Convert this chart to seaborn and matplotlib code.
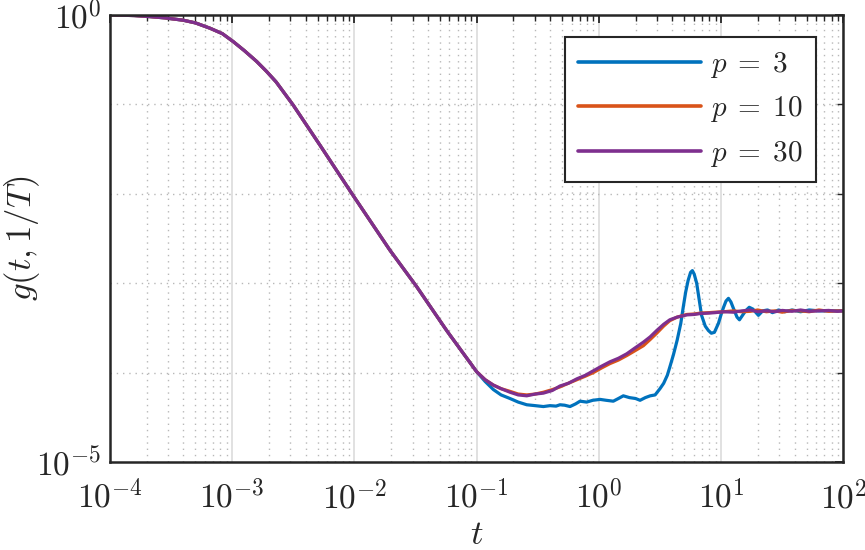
import numpy as np
import pandas as pd
import matplotlib
matplotlib.use('Agg')
import matplotlib.pyplot as plt
import seaborn as sns
from matplotlib.ticker import FixedLocator, LogLocator, NullFormatter

# values, in log10 units
# common decay, identical for all three p
log_t_common = [-4.0, -3.9, -3.8, -3.67, -3.55, -3.4, -3.3, -3.18, -3.08, -2.99,
                -2.9, -2.8, -2.72, -2.64, -2.5, -2.28, -2.01, -1.71, -1.49,
                -1.245, -1.0]
log_g_common = [0.0, -0.004, -0.008, -0.02, -0.034, -0.06, -0.09, -0.15, -0.21, -0.30,
                -0.40, -0.52, -0.63, -0.75, -1.01, -1.46, -2.02, -2.63, -3.04,
                -3.53, -3.99]

# p = 3 tail
log_t_p3 = [-0.93, -0.863, -0.8, -0.727, -0.66, -0.59, -0.52, -0.454, -0.4, -0.35,
            -0.318, -0.28, -0.236, -0.19, -0.154, -0.1, -0.05, 0.01, 0.06, 0.118,
            0.16, 0.2, 0.25, 0.3, 0.337, 0.38, 0.42, 0.46, 0.5, 0.53, 0.56, 0.58,
            0.61, 0.64, 0.67, 0.69, 0.71, 0.73, 0.75, 0.765, 0.78, 0.8, 0.82, 0.84,
            0.87, 0.896, 0.92, 0.945, 0.978, 1.0, 1.02, 1.04, 1.06, 1.08, 1.1, 1.13,
            1.15, 1.17, 1.2, 1.23, 1.26, 1.305, 1.34, 1.38, 1.42, 1.47, 1.52, 1.58,
            1.65, 1.72, 1.8, 1.9, 2.0]
log_g_p3 = [-4.10, -4.19, -4.25, -4.29, -4.33, -4.36, -4.37, -4.38, -4.37, -4.375,
            -4.36, -4.365, -4.38, -4.35, -4.32, -4.33, -4.31, -4.30, -4.31, -4.32,
            -4.29, -4.26, -4.28, -4.29, -4.31, -4.28, -4.26, -4.25, -4.18, -4.12, -4.03, -3.94,
            -3.80, -3.64, -3.45, -3.27, -3.10, -2.97, -2.88, -2.86, -2.90, -3.00, -3.18, -3.36,
            -3.48, -3.53, -3.56, -3.55, -3.45, -3.35, -3.27, -3.20, -3.17, -3.21, -3.28, -3.38,
            -3.41, -3.37, -3.31, -3.27, -3.29, -3.36, -3.31, -3.30, -3.33, -3.30, -3.32, -3.30,
            -3.32, -3.30, -3.31, -3.31, -3.31]

# p = 10 and p = 30 tails
log_t_tail = [-0.93, -0.863, -0.8, -0.727, -0.66, -0.59, -0.52, -0.454, -0.38, -0.318,
              -0.25, -0.18, -0.11, -0.045, 0.02, 0.09, 0.16, 0.228, 0.29, 0.364, 0.42,
              0.473, 0.53, 0.58, 0.64, 0.72, 0.78, 0.83, 0.9, 0.95, 1.02, 1.1, 1.17,
              1.24, 1.3, 1.37, 1.44, 1.5, 1.58, 1.65, 1.72, 1.8, 1.88, 1.95, 2.0]
log_g_p10 = [-4.08, -4.14, -4.18, -4.21, -4.24, -4.25, -4.24, -4.22, -4.19, -4.16,
             -4.12, -4.08, -4.04, -4.00, -3.95, -3.90, -3.86, -3.81, -3.76, -3.70, -3.63,
             -3.56, -3.48, -3.42, -3.38, -3.35, -3.345, -3.335, -3.33, -3.325, -3.32, -3.31, -3.32,
             -3.315, -3.30, -3.32, -3.31, -3.325, -3.305, -3.31, -3.32, -3.30, -3.315, -3.31, -3.31]
log_g_p30 = [-4.08, -4.14, -4.18, -4.22, -4.25, -4.26, -4.24, -4.23, -4.20, -4.15,
             -4.12, -4.07, -4.03, -3.98, -3.93, -3.88, -3.84, -3.79, -3.73, -3.66, -3.60,
             -3.53, -3.46, -3.41, -3.38, -3.355, -3.35, -3.34, -3.335, -3.33, -3.32, -3.325, -3.31,
             -3.30, -3.32, -3.31, -3.32, -3.305, -3.315, -3.30, -3.315, -3.31, -3.305, -3.315, -3.31]

labels = [r'$p\;=\;3$', r'$p\;=\;10$', r'$p\;=\;30$']
colors = ['#0072BD', '#D95319', '#7E2F8E']


def build_frame():
    parts = []
    for lab, (lt, lg) in zip(labels, [(log_t_p3, log_g_p3),
                                      (log_t_tail, log_g_p10),
                                      (log_t_tail, log_g_p30)]):
        x = np.array(log_t_common + lt)
        y = np.array(log_g_common + lg)
        parts.append(pd.DataFrame({'t': 10 ** x, 'g': 10 ** y, 'p': lab}))
    return pd.concat(parts, ignore_index=True)


sns.set_style('white')
plt.rcParams['mathtext.fontset'] = 'cm'
plt.rcParams['font.family'] = ['DejaVu Serif']

df = build_frame()

fig = plt.figure(figsize=(8.65, 5.5), dpi=100)
ax = fig.add_axes([0.127, 0.16, 0.848, 0.813])

sns.lineplot(data=df, x='t', y='g', hue='p', hue_order=labels, palette=colors,
             linewidth=2.3, estimator=None, errorbar=None, ax=ax)

ax.set_xscale('log')
ax.set_yscale('log')
ax.set_xlim(1e-4, 1e2)
ax.set_ylim(1e-5, 1e0)

xt = [1e-4, 1e-3, 1e-2, 1e-1, 1e0, 1e1, 1e2]
ax.set_xticks(xt, [r'$10^{-4}$', r'$10^{-3}$', r'$10^{-2}$', r'$10^{-1}$',
                   r'$10^{0}$', r'$10^{1}$', r'$10^{2}$'])
ax.xaxis.set_minor_locator(LogLocator(base=10, subs=np.arange(2, 10)))
ax.xaxis.set_minor_formatter(NullFormatter())
ax.set_yticks([1e-5, 1e0], [r'$10^{-5}$', r'$10^{0}$'])
ax.yaxis.set_minor_locator(FixedLocator([1e-4, 1e-3, 1e-2, 1e-1]))
ax.yaxis.set_minor_formatter(NullFormatter())

ax.tick_params(axis='both', which='both', direction='in', top=True, right=True,
               color='#262626', labelsize=24)
ax.tick_params(which='major', length=6, width=1.3)
ax.tick_params(axis='x', which='major', pad=13)
ax.tick_params(axis='y', which='major', pad=6)
ax.tick_params(which='minor', length=4, width=1.0)

ax.grid(True, which='major', axis='x', color='#dcdcdc', linestyle='-', linewidth=1.2)
ax.grid(True, which='minor', axis='both', color='#b8b8b8',
        linestyle=(0, (1, 3.5)), linewidth=1.0)
ax.grid(False, which='major', axis='y')
ax.set_axisbelow(True)

for s in ax.spines.values():
    s.set_visible(True)
    s.set_color('#262626')
    s.set_linewidth(1.8)

ax.set_xlabel('$t$', fontsize=25)
ax.xaxis.set_label_coords(0.5, -0.122)
ax.set_ylabel('$g(t,1/T)$', fontsize=25)
ax.yaxis.set_label_coords(-0.092, 0.5)

leg = ax.legend(loc='upper right', bbox_to_anchor=(0.962, 0.951), borderaxespad=0,
                fontsize=21, handlelength=4.2, handletextpad=0.3, labelspacing=0.5,
                borderpad=0.45, fancybox=False, framealpha=1, edgecolor='#262626')
leg.get_frame().set_linewidth(1.5)
for line in leg.get_lines():
    line.set_linewidth(2.6)

fig.savefig('out.png', dpi=100)
